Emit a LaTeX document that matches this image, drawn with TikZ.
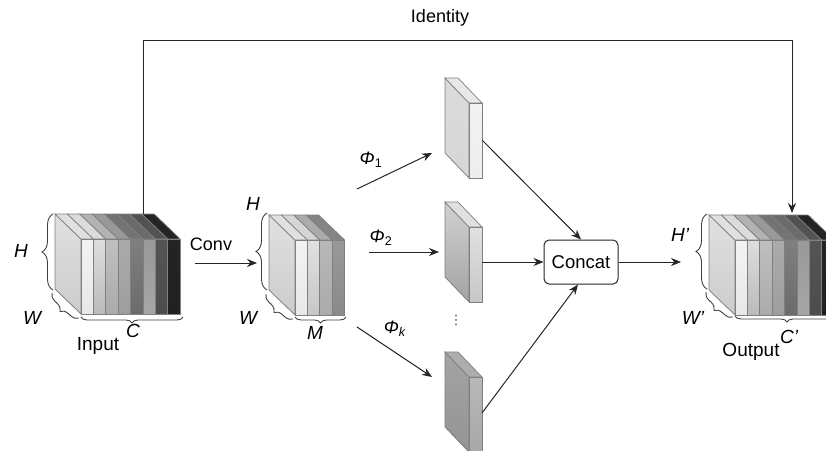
\documentclass[tikz,border=0pt]{standalone}
\usepackage{fontspec}
\setmainfont{Liberation Sans}
\newfontfamily\dejavu{DejaVu Sans}
\usetikzlibrary{arrows.meta,decorations.pathreplacing,calc}

\tikzset{
  fmedge/.style={draw=black!50, line width=0.7pt},
  conn/.style={draw=black!85, line width=1pt, -{Stealth[length=10pt,width=8pt]}},
  plainline/.style={draw=black!85, line width=1pt},
  mybrace/.style={decorate, decoration={brace, amplitude=#1}, draw=black!75, line width=0.9pt},
  lbl/.style={font=\fontsize{19}{22}\selectfont\itshape, inner sep=0pt},
  txt/.style={font=\fontsize{18}{21}\selectfont, inner sep=0pt},
  bigtxt/.style={font=\fontsize{19}{22}\selectfont, inner sep=0pt},
  phitxt/.style={font=\fontsize{18}{21}\selectfont, inner sep=0pt},
}

% feature block: #1 front-left x, #2 front-top y, #3 list front-top/front-bottom/top-face
\newcommand\fmblock[3]{%
  \filldraw[fmedge, top color=black!12, bottom color=black!20] (#1,#2) -- ++(-26,-25) -- ++(0,75) -- ++(26,25) -- cycle;
  \foreach \ft/\fb/\tc [count=\i from 0] in {#3} {
    \pgfmathsetmacro\xa{#1+12.4*\i}
    \pgfmathsetmacro\xb{#1+12.4*(\i+1)}
    \filldraw[fmedge, fill=black!\tc] (\xa,#2) -- (\xb,#2) -- (\xb-26,#2-25) -- (\xa-26,#2-25) -- cycle;
    \filldraw[fmedge, top color=black!\ft, bottom color=black!\fb] (\xa,#2) rectangle (\xb,#2+75);
  }
}

% thin slab: #1 x, #2 top y, #3 side top, #4 side bottom, #5 top face, #6 front top, #7 front bottom
\newcommand\thinslab[7]{%
  \filldraw[fmedge, top color=black!#3, bottom color=black!#4] (#1,#2) -- ++(-24,-25) -- ++(0,75) -- ++(24,25) -- cycle;
  \filldraw[fmedge, fill=black!#5] (#1,#2) -- ++(13,0) -- ++(-24,-25) -- ++(-13,0) -- cycle;
  \filldraw[fmedge, top color=black!#6, bottom color=black!#7] (#1,#2) rectangle (#1+13,#2+75);
}

\begin{document}
\begin{tikzpicture}[x=1pt,y=-1pt]
\useasboundingbox (0,0) rectangle (826,450);
\fill[white] (0,0) rectangle (826,450);
\clip (0,0) rectangle (826,450);

% ---------- Input block ----------
\fmblock{81}{239}{5/9/12,13/27/14,25/33/30,33/38/40,50/58/55,40/35/58,67/70/68,86/87/86}
\draw[mybrace=11] (53,290) -- (53,214);
\draw[mybrace=8] (79,318) -- (52,293);
\draw[mybrace=6] (183,317) -- (81,317);
\node[lbl] (hin) at (21,251) {H};
\node[lbl] (win) at (32,318) {W};
\node[lbl] (cin) at (133,331) {C};
\node[bigtxt] (input) at (98,346) {Input};

% ---------- Conv ----------
\coordinate (cva) at (195,263);
\coordinate (cvb) at (257,263);
\draw[conn] (cva) -- (cvb);
\node[txt] (conv) at (211,244) {Conv};

% ---------- Middle block ----------
\fmblock{295}{240}{5/9/12,12/22/16,28/33/33,40/46/48}
\draw[mybrace=11] (267,290) -- (267,213);
\draw[mybrace=8] (293,319) -- (266,294);
\draw[mybrace=6] (346,317) -- (295,317);
\node[lbl] (hmid) at (253,204) {H};
\node[lbl] (wmid) at (248,318) {W};
\node[lbl] (mmid) at (315,333) {M};

% ---------- Thin slabs ----------
\thinslab{469}{103}{14}{16}{9}{5}{7}
\thinslab{469}{227}{18}{36}{12}{12}{22}
\thinslab{469}{377}{36}{42}{32}{28}{34}
\node[font=\dejavu\fontsize{13}{13}\selectfont, text={rgb,255:red,60;green,70;blue,110}, inner sep=0pt] (dots) at (456,320) {⋮};

% ---------- Phi arrows ----------
\coordinate (p1a) at (357,189);
\coordinate (p1b) at (432,153);
\coordinate (p2a) at (369,252);
\coordinate (p2b) at (439,252);
\coordinate (pka) at (357,327);
\coordinate (pkb) at (432,377);
\draw[conn] (p1a) -- (p1b);
\draw[conn] (p2a) -- (p2b);
\draw[conn] (pka) -- (pkb);
\node[phitxt] (phi1) at (371,160) {\textit{Φ}\textsubscript{1}};
\node[phitxt] (phi2) at (381,238) {\textit{Φ}\textsubscript{2}};
\node[phitxt] (phik) at (395,329) {\textit{Φ}\textsubscript{\textit{k}}};

% ---------- Concat ----------
\node[draw=black!85, line width=1pt, rounded corners=5pt, minimum width=74pt, minimum height=44pt,
      font=\fontsize{18.5}{21}\selectfont, inner sep=0pt] (concat) at (581,262) {Concat};
\coordinate (s1r) at (482,140);
\coordinate (s2r) at (482,262);
\coordinate (skr) at (482,413);
\draw[conn] (s1r) -- (concat.north);
\draw[conn] (s2r) -- (concat.west);
\draw[conn] (skr) -- ($(concat.south)+(-3,0)$);
\coordinate (outin) at (681,262);
\draw[conn] (concat.east) -- (outin);

% ---------- Output block ----------
\fmblock{735}{240}{5/9/12,13/27/14,25/33/30,33/38/40,50/58/55,40/35/58,67/70/68,86/87/86}
\draw[mybrace=11] (707,289) -- (707,214);
\draw[mybrace=8] (733,317) -- (706,292);
\draw[mybrace=6] (839,316) -- (735,316);
\node[lbl] (hout) at (680,235) {H'};
\node[lbl] (wout) at (693,318) {W'};
\node[lbl] (cout) at (789,337) {C'};
\node[bigtxt] (output) at (751,352) {Output};

% ---------- Identity ----------
\coordinate (ida) at (143,214);
\coordinate (idl) at (143,40);
\coordinate (idr) at (792,40);
\coordinate (idb) at (792,213);
\draw[plainline] (ida) -- (idl) -- (idr);
\draw[conn] (idr) -- (idb);
\node[font=\fontsize{18}{21}\selectfont, inner sep=0pt] (identity) at (440,18) {Identity};
\end{tikzpicture}
\end{document}
